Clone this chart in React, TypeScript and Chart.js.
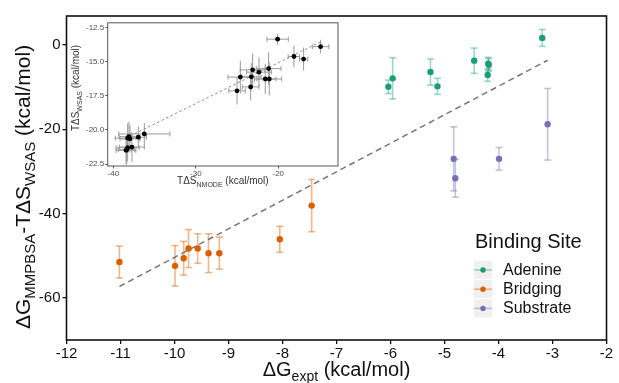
import React, { useEffect, useRef } from "react";
import { Chart, registerables } from "chart.js";
Chart.register(...registerables);

const FONT = '"Liberation Sans", Arial, Helvetica, sans-serif';

// ---- main panel data ----
const seriesNames = ["Adenine", "Bridging", "Substrate"];
const seriesColors = ["#1B9E77", "#D95F02", "#7570B3"];
const errColors = ["rgba(27,158,119,0.42)", "rgba(217,95,2,0.45)", "rgba(117,112,179,0.42)"];

const adenineX = [-6.04, -5.96, -5.26, -5.13, -4.45, -4.19, -4.18, -4.2, -3.19];
const adenineY = [-9.9, -7.9, -6.4, -9.8, -3.7, -4.4, -4.7, -7.1, 1.7];
const adenineErr = [1.6, 4.9, 3.1, 1.9, 3.0, 1.5, 1.5, 1.5, 2.0];

const bridgingX = [-11.02, -9.99, -9.83, -9.74, -9.57, -9.37, -9.17, -8.05, -7.46];
const bridgingY = [-51.5, -52.4, -50.6, -48.3, -48.3, -49.4, -49.4, -46.1, -38.1];
const bridgingErr = [3.8, 4.8, 4.0, 4.5, 3.5, 4.6, 3.8, 3.1, 6.2];

const substrateX = [-4.83, -4.8, -3.99, -3.09];
const substrateY = [-27.0, -31.6, -27.0, -18.8];
const substrateErr = [7.6, 4.5, 2.7, 8.5];

const fitX = [-11.02, -3.09];
const fitY = [-57.3, -3.6];

const mainYTicks = [-60, -40, -20, 0];

// ---- inset data ----
const insetX = [-20.08, -14.87, -18.1, -16.93, -21.17, -23.11, -22.34, -23.27, -24.6, -21.58, -21.09, -23.35, -25.0,
  -36.24, -36.97, -38.1, -38.26, -37.98, -37.74, -38.26, -38.38, -38.46];
const insetY = [-13.34, -13.89, -14.61, -14.8, -15.5, -15.59, -15.76, -16.1, -16.12, -16.26, -16.26, -16.84, -17.13,
  -20.29, -20.53, -20.49, -20.6, -20.65, -21.25, -21.3, -21.45, -21.49];
const insetXErr = [1.3, 1.0, 0.7, 0.5, 1.5, 1.5, 1.5, 1.2, 1.5, 1.3, 1.5, 1.0, 1.0,
  3.1, 1.0, 1.2, 1.5, 1.2, 1.5, 1.4, 1.0, 1.2];
const insetYErr = [0.4, 0.5, 0.8, 0.85, 1.2, 1.2, 1.1, 1.0, 1.2, 1.1, 1.2, 1.0, 1.0,
  0.8, 0.8, 1.1, 1.1, 1.0, 1.1, 1.0, 1.1, 1.0];
const insetFitX = [-38.5, -14.9];
const insetFitY = [-20.6, -13.55];
const insetXTicks = [-40, -30, -20];
const insetYTicks = [-22.5, -20, -17.5, -15, -12.5];

type Part = { t: string; sub?: boolean };

function drawRich(ctx: CanvasRenderingContext2D, parts: Part[], cx: number, baseY: number, size: number, subSize: number, color: string) {
  ctx.fillStyle = color;
  ctx.textBaseline = "alphabetic";
  ctx.textAlign = "left";
  let total = 0;
  const widths = parts.map((p) => {
    ctx.font = `${p.sub ? subSize : size}px ${FONT}`;
    const w = ctx.measureText(p.t).width;
    total += w;
    return w;
  });
  let x = cx - total / 2;
  parts.forEach((p, i) => {
    ctx.font = `${p.sub ? subSize : size}px ${FONT}`;
    ctx.fillText(p.t, x, p.sub ? baseY + size * 0.25 : baseY);
    x += widths[i];
  });
}

const errorBarPlugin = {
  id: "errbars",
  beforeDatasetsDraw(chart: any) {
    const ctx = chart.ctx as CanvasRenderingContext2D;
    const xs = chart.scales.x;
    const ys = chart.scales.y;
    chart.data.datasets.forEach((ds: any) => {
      if (!ds.errY && !ds.errX) return;
      ctx.save();
      ctx.strokeStyle = ds.errColor;
      ctx.lineWidth = ds.errWidth;
      const line = (a: number, b: number, c: number, d: number) => {
        ctx.beginPath();
        ctx.moveTo(a, b);
        ctx.lineTo(c, d);
        ctx.stroke();
      };
      ds.data.forEach((p: any, j: number) => {
        const px = xs.getPixelForValue(p.x);
        const py = ys.getPixelForValue(p.y);
        if (ds.errY) {
          const e = ds.errY[j];
          const y1 = ys.getPixelForValue(p.y + e);
          const y2 = ys.getPixelForValue(p.y - e);
          line(px, y1, px, y2);
          if (ds.capY) {
            line(px - ds.capY, y1, px + ds.capY, y1);
            line(px - ds.capY, y2, px + ds.capY, y2);
          }
        }
        if (ds.errX) {
          const e = ds.errX[j];
          const x1 = xs.getPixelForValue(p.x - e);
          const x2 = xs.getPixelForValue(p.x + e);
          line(x1, py, x2, py);
          if (ds.capX) {
            line(x1, py - ds.capX, x1, py + ds.capX);
            line(x2, py - ds.capX, x2, py + ds.capX);
          }
        }
      });
      ctx.restore();
    });
  },
};

const mainDecorPlugin = {
  id: "mainDecor",
  afterDraw(chart: any) {
    const ctx = chart.ctx as CanvasRenderingContext2D;
    const a = chart.chartArea;
    ctx.save();
    ctx.strokeStyle = "#111";
    ctx.lineWidth = 1.6;
    ctx.strokeRect(a.left, a.top, a.right - a.left, a.bottom - a.top);

    // x title
    drawRich(ctx, [{ t: "ΔG" }, { t: "expt", sub: true }, { t: " (kcal/mol)" }], (a.left + a.right) / 2, 376, 20, 14, "#111");
    // y title
    ctx.save();
    ctx.translate(30, 187);
    ctx.rotate(-Math.PI / 2);
    drawRich(ctx, [{ t: "ΔG" }, { t: "MMPBSA", sub: true }, { t: "-TΔS" }, { t: "WSAS", sub: true }, { t: " (kcal/mol)" }], 0, 0, 21, 15, "#111");
    ctx.restore();

    // legend
    ctx.fillStyle = "#111";
    ctx.font = `20px ${FONT}`;
    ctx.textAlign = "left";
    ctx.textBaseline = "alphabetic";
    ctx.fillText("Binding Site", 475, 248);
    seriesNames.forEach((n, i) => {
      const by = 261 + i * 19.2;
      ctx.fillStyle = "#f0f0f0";
      ctx.fillRect(474, by, 18, 18);
      ctx.strokeStyle = errColors[i];
      ctx.lineWidth = 1.5;
      ctx.beginPath();
      ctx.moveTo(474, by + 9);
      ctx.lineTo(492, by + 9);
      ctx.stroke();
      ctx.fillStyle = seriesColors[i];
      ctx.beginPath();
      ctx.arc(483, by + 9, 2.7, 0, Math.PI * 2);
      ctx.fill();
      ctx.fillStyle = "#111";
      ctx.font = `16px ${FONT}`;
      ctx.textBaseline = "middle";
      ctx.fillText(n, 503, by + 9.5);
    });
    ctx.restore();
  },
};

const insetDecorPlugin = {
  id: "insetDecor",
  afterDraw(chart: any) {
    const ctx = chart.ctx as CanvasRenderingContext2D;
    const a = chart.chartArea;
    ctx.save();
    ctx.strokeStyle = "#555";
    ctx.lineWidth = 1;
    ctx.strokeRect(a.left, a.top, a.right - a.left, a.bottom - a.top);
    drawRich(ctx, [{ t: "TΔS" }, { t: "NMODE", sub: true }, { t: " (kcal/mol)" }], (a.left + a.right) / 2, 167, 10, 7, "#333");
    ctx.save();
    ctx.translate(11, 71);
    ctx.rotate(-Math.PI / 2);
    drawRich(ctx, [{ t: "TΔS" }, { t: "WSAS", sub: true }, { t: " (kcal/mol)" }], 0, 0, 10, 7, "#333");
    ctx.restore();
    ctx.restore();
  },
};

function pts(xs: number[], ys: number[]) {
  return xs.map((x, i) => ({ x, y: ys[i] }));
}

export default function App() {
  const mainRef = useRef<HTMLCanvasElement>(null);
  const insetRef = useRef<HTMLCanvasElement>(null);

  useEffect(() => {
    document.body.style.margin = "0";
    Chart.defaults.font.family = FONT;

    const seriesX = [adenineX, bridgingX, substrateX];
    const seriesY = [adenineY, bridgingY, substrateY];
    const seriesE = [adenineErr, bridgingErr, substrateErr];

    const mainDatasets: any[] = seriesNames.map((n, i) => ({
      type: "scatter",
      label: n,
      data: pts(seriesX[i], seriesY[i]),
      backgroundColor: seriesColors[i],
      borderWidth: 0,
      pointRadius: 3.2,
      errY: seriesE[i],
      errColor: errColors[i],
      errWidth: 1.6,
      capY: 3.5,
    }));
    mainDatasets.push({
      type: "line",
      label: "fit",
      data: pts(fitX, fitY),
      borderColor: "#777",
      borderWidth: 1.5,
      borderDash: [6, 4],
      pointRadius: 0,
      fill: false,
    });

    const main = new Chart(mainRef.current as HTMLCanvasElement, {
      type: "scatter",
      data: { datasets: mainDatasets },
      options: {
        animation: false,
        responsive: false,
        events: [],
        layout: { padding: { top: 16, right: 12.5, left: 0, bottom: 0 } },
        plugins: { legend: { display: false }, tooltip: { enabled: false } },
        scales: {
          x: {
            type: "linear",
            min: -12,
            max: -2,
            ticks: { stepSize: 1, color: "#111", font: { size: 15 }, padding: 1, maxRotation: 0 },
            grid: { display: true, drawOnChartArea: false, drawTicks: true, tickLength: 4, color: "#111", lineWidth: 1.3 },
            border: { display: false },
            afterFit: (s: any) => { s.height = 43; },
          },
          y: {
            type: "linear",
            min: -70,
            max: 6.9,
            afterBuildTicks: (s: any) => { s.ticks = mainYTicks.map((v) => ({ value: v })); },
            ticks: { color: "#111", font: { size: 15 }, padding: 2 },
            grid: { display: true, drawOnChartArea: false, drawTicks: true, tickLength: 4, color: "#111", lineWidth: 1.3 },
            border: { display: false },
            afterFit: (s: any) => { s.width = 66.5; },
          },
        },
      } as any,
      plugins: [errorBarPlugin, mainDecorPlugin],
    } as any);

    const inset = new Chart(insetRef.current as HTMLCanvasElement, {
      type: "scatter",
      data: {
        datasets: [
          {
            type: "scatter",
            label: "inset",
            data: pts(insetX, insetY),
            backgroundColor: "#000",
            borderWidth: 0,
            pointRadius: 2.4,
            errX: insetXErr,
            errY: insetYErr,
            errColor: "#9a9a9a",
            errWidth: 1,
            capX: 2.5,
          },
          {
            type: "line",
            label: "fit",
            data: pts(insetFitX, insetFitY),
            borderColor: "#8a8a8a",
            borderWidth: 1,
            borderDash: [2.5, 2.5],
            pointRadius: 0,
            fill: false,
          },
        ] as any,
      },
      options: {
        animation: false,
        responsive: false,
        events: [],
        layout: { padding: { top: 3, right: 4, left: 0, bottom: 0 } },
        plugins: { legend: { display: false }, tooltip: { enabled: false } },
        scales: {
          x: {
            type: "linear",
            min: -40.68,
            max: -12.76,
            afterBuildTicks: (s: any) => { s.ticks = insetXTicks.map((v) => ({ value: v })); },
            ticks: { color: "#4d4d4d", font: { size: 8 }, padding: 0, maxRotation: 0 },
            grid: { display: true, drawOnChartArea: false, drawTicks: true, tickLength: 2.5, color: "#555", lineWidth: 1 },
            border: { display: false },
            afterFit: (s: any) => { s.height = 23; },
          },
          y: {
            type: "linear",
            min: -22.64,
            max: -12.14,
            afterBuildTicks: (s: any) => { s.ticks = insetYTicks.map((v) => ({ value: v })); },
            ticks: { color: "#4d4d4d", font: { size: 8 }, padding: 1, callback: (v: any) => Number(v).toFixed(1) },
            grid: { display: true, drawOnChartArea: false, drawTicks: true, tickLength: 2.5, color: "#555", lineWidth: 1 },
            border: { display: false },
            afterFit: (s: any) => { s.width = 39.7; },
          },
        },
      } as any,
      plugins: [errorBarPlugin, insetDecorPlugin],
    } as any);

    return () => {
      main.destroy();
      inset.destroy();
    };
  }, []);

  return (
    <div style={{ position: "relative", width: 619, height: 383, background: "#fff", overflow: "hidden" }}>
      <canvas ref={mainRef} width={619} height={383} style={{ position: "absolute", left: 0, top: 0 }} />
      <canvas ref={insetRef} width={274} height={172} style={{ position: "absolute", left: 68, top: 17 }} />
    </div>
  );
}
